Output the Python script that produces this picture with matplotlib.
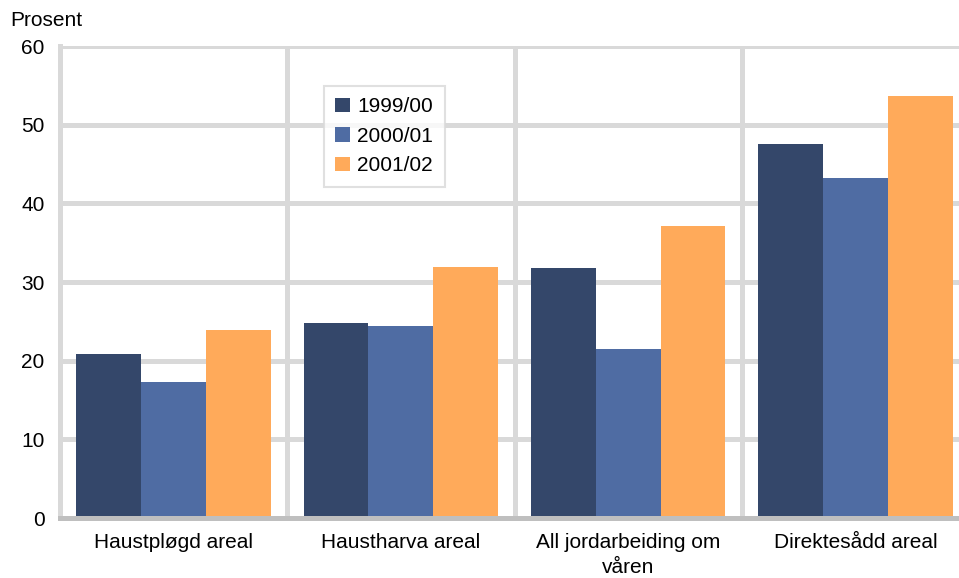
import matplotlib
matplotlib.use("Agg")
import matplotlib.pyplot as plt
import numpy as np

categories = ["Haustpløgd areal", "Haustharva areal", "All jordarbeiding om\nvåren", "Direktesådd areal"]
series_names = ["1999/00", "2000/01", "2001/02"]
v1999 = [20.8, 24.8, 31.8, 47.6]
v2000 = [17.3, 24.4, 21.5, 43.2]
v2001 = [23.9, 31.9, 37.1, 53.6]
yticks = [0, 10, 20, 30, 40, 50, 60]
colors = ["#34476A", "#4F6CA3", "#FFAA5A"]

plt.rcParams['font.family'] = ['Liberation Sans', 'DejaVu Sans']
FS = 15

W, H = 959, 578
fig = plt.figure(figsize=(W / 100, H / 100), dpi=100)
left, right, top, bottom = 60, 969, 46, 518
ax = fig.add_axes([left / W, 1 - bottom / H, (right - left) / W, (bottom - top) / H])

x = np.arange(len(categories))
bw = 0.285
for i, (vals, name) in enumerate(zip([v1999, v2000, v2001], series_names)):
    ax.bar(x + (i - 1) * bw, vals, width=bw, color=colors[i], label=name, zorder=3)

ax.set_xlim(-0.5, len(categories) - 0.5)
ax.set_ylim(0, 60)
ax.set_yticks(yticks)
ax.set_xticks(x)
ax.set_xticklabels(categories, fontsize=FS, linespacing=1.35)
ax.tick_params(axis='both', length=0, labelsize=FS)
ax.tick_params(axis='y', pad=11)
ax.tick_params(axis='x', pad=11)

grid_c = "#D9D9D9"
for yv in yticks[1:]:
    ax.axhline(yv, color=grid_c, lw=3.6, zorder=1)
for xv in np.arange(0.5, len(categories) - 0.5, 1.0):
    ax.axvline(xv, color=grid_c, lw=3.6, zorder=1)

for s in ["top", "right"]:
    ax.spines[s].set_visible(False)
ax.spines["left"].set_color(grid_c)
ax.spines["left"].set_linewidth(3.6)
ax.spines["bottom"].set_color("#BFBFBF")
ax.spines["bottom"].set_linewidth(3.6)
ax.spines["bottom"].set_zorder(4)

leg = ax.legend(loc="upper left", bbox_to_anchor=((324 - left) / (right - left), 1 - (86 - top) / (bottom - top)),
                fontsize=FS, frameon=True, fancybox=False, handlelength=0.7, handleheight=0.7,
                handletextpad=0.35, borderpad=0.55, labelspacing=0.5, borderaxespad=0)
leg.get_frame().set_edgecolor(grid_c)
leg.get_frame().set_linewidth(1.5)

fig.text(10 / W, 1 - 20 / H, "Prosent", fontsize=FS, va="center", ha="left")

fig.savefig("out.png", dpi=100)
